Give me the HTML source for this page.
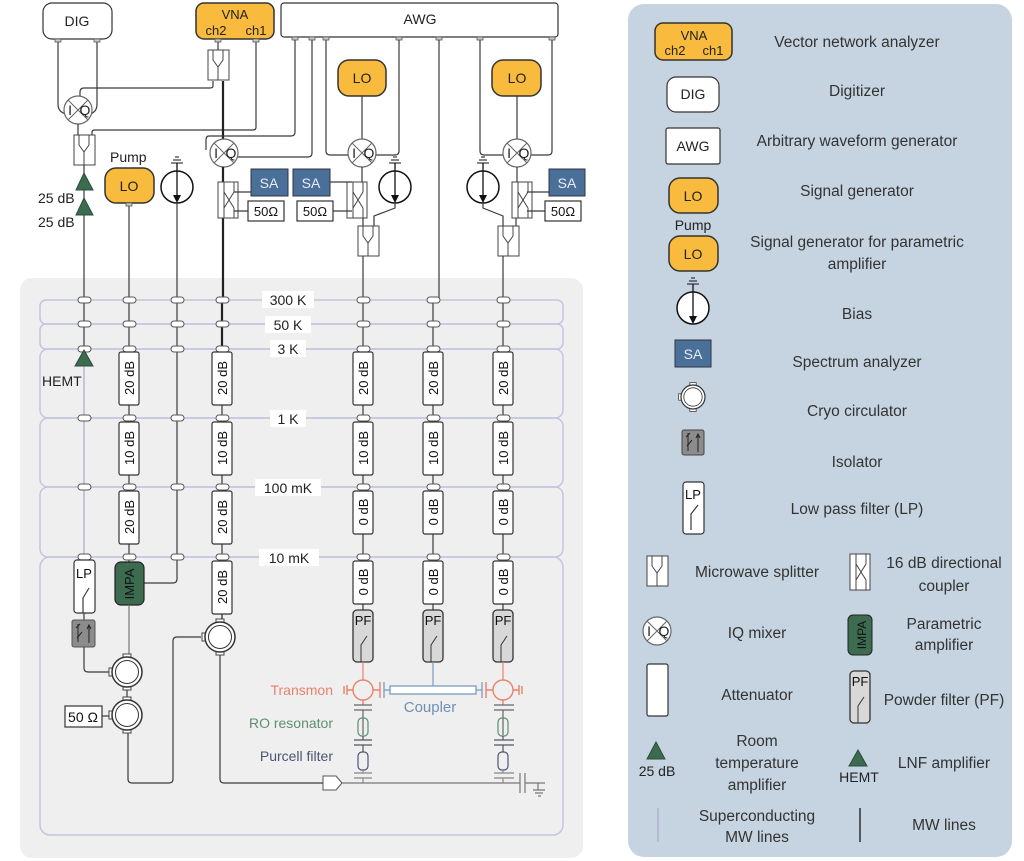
<!DOCTYPE html>
<html><head><meta charset="utf-8"><style>
html,body{margin:0;padding:0;background:#fff;}
svg{display:block;font-family:"Liberation Sans","DejaVu Sans",sans-serif;}
.ln{fill:none;stroke:#3a3a3a;stroke-width:1.2}
.th{fill:none;stroke:#222;stroke-width:2.2}
.sc{fill:none;stroke:#a9a9cc;stroke-width:1.2}
.gr{fill:none;stroke:#777;stroke-width:1.2}
.bx{fill:#fff;stroke:#333;stroke-width:1.2}
.t{font-size:14px;fill:#222}
.lg{font-size:15.5px;fill:#333;text-anchor:middle}
.lo{fill:#f9bb3d;stroke:#333;stroke-width:1.5}
.sa{fill:#4a6f99;stroke:#334;stroke-width:1}
.pill{fill:#fff;stroke:#555;stroke-width:1}
.at{font-size:13px;fill:#111}
</style></head><body>
<svg width="1024" height="861" viewBox="0 0 1024 861" xmlns="http://www.w3.org/2000/svg">
<defs>
<symbol id="mix" overflow="visible"><circle r="14" fill="#fff" stroke="#666" stroke-width="1.2"/><path d="M-10,-10L10,10M10,-10L-10,10" stroke="#666" stroke-width="1"/><text x="-8" y="5" font-size="14" fill="#222" text-anchor="middle">I</text><text x="7" y="5" font-size="14" fill="#222" text-anchor="middle">Q</text></symbol>
<symbol id="spl" overflow="visible"><rect x="-10" y="0" width="21" height="30" fill="#fff" stroke="#444"/><path d="M-5,0L-5,10L0,17L5,10L5,0M0,17L0,30" fill="none" stroke="#444"/></symbol>
<symbol id="dc" overflow="visible"><rect x="-10" y="0" width="20" height="36" fill="#fff" stroke="#444"/><path d="M-4,0V36M-4,10L6,26M6,10L-4,26M6,10V0M6,26V36" fill="none" stroke="#444"/></symbol>
<symbol id="cir" overflow="visible"><rect x="-4" y="-18" width="8" height="5" fill="#fff" stroke="#444"/><rect x="-4" y="13" width="8" height="5" fill="#fff" stroke="#444"/><rect x="-18" y="-4" width="5" height="8" fill="#fff" stroke="#444"/><circle r="15" fill="#fff" stroke="#333" stroke-width="1.5"/><circle r="11.5" fill="#fff" stroke="#333" stroke-width="1"/></symbol>
<symbol id="bias" overflow="visible"><circle r="16" fill="#fff" stroke="#111" stroke-width="1.5"/><path d="M0,-24V14" stroke="#111" stroke-width="1.3"/><path d="M-4,8L0,16L4,8Z" fill="#111"/><path d="M-6,-24H6M-4,-27H4M-2,-30H2" stroke="#111"/></symbol>
<symbol id="pf" overflow="visible"><rect x="-10" y="0" width="20" height="52" rx="4" fill="#d8d8d8" stroke="#333" stroke-width="1.3"/><text x="0" y="15" font-size="13" text-anchor="middle" fill="#111">PF</text><path d="M-2,52V35L4,26" fill="none" stroke="#333"/></symbol>
</defs>

<rect x="628" y="4" width="384" height="853" rx="16" fill="#c6d4e1"/>
<rect x="20" y="278" width="563" height="580" rx="12" fill="#efefef"/>
<g fill="none" stroke="#c4c4e0" stroke-width="1.5">
<rect x="40" y="300" width="523" height="24" rx="6"/>
<rect x="40" y="324" width="523" height="25" rx="6"/>
<rect x="40" y="349" width="523" height="69" rx="8"/>
<rect x="40" y="418" width="523" height="69" rx="8"/>
<rect x="40" y="487" width="523" height="70" rx="8"/>
<rect x="40" y="557" width="523" height="278" rx="10"/>
</g>

<rect x="43" y="3" width="69" height="36" rx="9" class="bx" stroke-width="1.5"/>
<text x="77" y="26" class="t" text-anchor="middle">DIG</text>
<rect x="196" y="3" width="78" height="36" rx="8" class="lo"/>
<text x="235" y="19" font-size="13" text-anchor="middle" fill="#222">VNA</text>
<text x="216" y="35" font-size="13" text-anchor="middle" fill="#222">ch2</text>
<text x="256" y="35" font-size="13" text-anchor="middle" fill="#222">ch1</text>
<rect x="281" y="3" width="277" height="34" rx="3" class="bx"/>
<text x="420" y="24" class="t" text-anchor="middle">AWG</text>
<g fill="#ccc" stroke="#555" stroke-width="0.8">
<rect x="55" y="39" width="6" height="3"/><rect x="94" y="39" width="6" height="3"/>
<rect x="215" y="39" width="6" height="3"/><rect x="253" y="39" width="6" height="3"/>
<rect x="292" y="37" width="6" height="3"/><rect x="309" y="37" width="6" height="3"/><rect x="323" y="37" width="6" height="3"/><rect x="396" y="37" width="6" height="3"/><rect x="436" y="37" width="6" height="3"/><rect x="477" y="37" width="6" height="3"/><rect x="549" y="37" width="6" height="3"/>
</g>

<path class="ln" d="M58,42V104Q58,112 66,114M97,42V104Q97,112 90,114"/>
<path class="ln" d="M218,42V50"/>
<use href="#spl" x="218" y="50"/>
<path class="ln" d="M213,81V86Q213,88 210,88H84Q80,88 80,92V97"/>
<use href="#mix" x="78" y="110"/>
<path class="ln" d="M78,124V135M92,135V132Q92,130 95,130H253Q256,130 256,127V42"/>
<use href="#spl" x="84" y="135"/>
<path class="ln" d="M84,165V300"/>
<path d="M76,190L84,173L93,190Z" fill="#3c6b50" stroke="#2b4d3a"/>
<path d="M76,215L84,198L93,215Z" fill="#3c6b50" stroke="#2b4d3a"/>
<text x="38" y="203" class="t">25 dB</text>
<text x="38" y="227" class="t">25 dB</text>

<text x="110" y="162" class="t">Pump</text>
<rect x="105" y="168" width="49" height="35" rx="11" class="lo"/>
<text x="129" y="191" class="t" text-anchor="middle">LO</text>
<rect x="126" y="203" width="6" height="3" fill="#ccc" stroke="#555" stroke-width="0.8"/>
<path class="ln" d="M129,206V300"/>
<use href="#bias" x="177" y="187"/>
<path class="ln" d="M177,203V300"/>

<path class="th" d="M223,81V139"/>
<path class="ln" d="M295,40V132Q295,136 291,136H209Q206,136 206,140V150M312,40V153Q312,157 308,157H238"/>
<use href="#mix" x="224" y="153"/>
<path class="th" d="M223,167V300"/>
<use href="#dc" x="228" y="182"/>
<path class="ln" d="M234,192H251M234,211H248"/>
<rect x="251" y="169" width="37" height="27" class="sa"/>
<text x="269" y="188" font-size="14" text-anchor="middle" style="fill:#e8eef5">SA</text>
<rect x="248" y="201" width="36" height="20" class="bx"/>
<text x="266" y="216" font-size="13" text-anchor="middle" fill="#111">50Ω</text>

<rect x="338" y="60" width="48" height="36" rx="11" class="lo"/>
<text x="362" y="83" class="t" text-anchor="middle">LO</text>
<path class="ln" d="M362,96V139M326,40V151Q326,155 330,155H348M399,40V151Q399,155 395,155H376"/>
<use href="#mix" x="362" y="153"/>
<path class="ln" d="M362,167V182"/>
<rect x="293" y="169" width="37" height="27" class="sa"/>
<text x="311" y="188" font-size="14" text-anchor="middle" style="fill:#e8eef5">SA</text>
<rect x="297" y="201" width="36" height="20" class="bx"/>
<text x="315" y="216" font-size="13" text-anchor="middle" fill="#111">50Ω</text>
<use href="#dc" x="357" y="182"/>
<path class="ln" d="M330,182H352M333,211H352M363,218V226"/>
<use href="#bias" x="395" y="187"/>
<path class="ln" d="M395,203V208L374,216V226"/>
<use href="#spl" x="368" y="226"/>
<path class="ln" d="M363,256V352"/>

<path class="ln" d="M439,40V300"/>
<path class="ln" d="M433,300V352"/>

<rect x="492" y="60" width="49" height="36" rx="11" class="lo"/>
<text x="517" y="83" class="t" text-anchor="middle">LO</text>
<path class="ln" d="M517,96V139M480,40V151Q480,155 484,155H503M552,40V151Q552,155 548,155H531"/>
<use href="#mix" x="517" y="153"/>
<path class="ln" d="M517,167V182"/>
<use href="#dc" x="522" y="182"/>
<path class="ln" d="M527,192H549M527,211H545M516,218V226"/>
<rect x="549" y="169" width="36" height="27" class="sa"/>
<text x="567" y="188" font-size="14" text-anchor="middle" style="fill:#e8eef5">SA</text>
<rect x="545" y="201" width="36" height="20" class="bx"/>
<text x="563" y="216" font-size="13" text-anchor="middle" fill="#111">50Ω</text>
<use href="#bias" x="483" y="187"/>
<path class="ln" d="M483,203V208L503,216V226"/>
<use href="#spl" x="508" y="226"/>
<path class="ln" d="M503,256V352"/>

<path class="ln" d="M84,300V352"/>
<path class="sc" d="M84,366V560"/>
<path class="ln" d="M129,300V562"/>
<path class="ln" d="M177,300V579Q177,583 173,583H144"/>
<path class="th" d="M222,300V352"/>
<path class="ln" d="M222,352V620"/>
<path class="ln" d="M363,352V610"/>
<path class="ln" d="M433,352V610"/>
<path class="ln" d="M503,352V610"/>

<g font-size="14" fill="#222" text-anchor="middle">
<rect x="262" y="291" width="52" height="17" fill="#fff"/><text x="288" y="305">300 K</text>
<rect x="265" y="316" width="46" height="17" fill="#fff"/><text x="288" y="330">50 K</text>
<rect x="270" y="340" width="36" height="17" fill="#fff"/><text x="288" y="354">3 K</text>
<rect x="270" y="410" width="36" height="17" fill="#fff"/><text x="288" y="424">1 K</text>
<rect x="255" y="479" width="66" height="17" fill="#fff"/><text x="288" y="493">100 mK</text>
<rect x="259" y="549" width="60" height="17" fill="#fff"/><text x="289" y="563">10 mK</text>
</g>

<g class="pill">
<rect x="78" y="297" width="13" height="6" rx="3"/><rect x="123" y="297" width="13" height="6" rx="3"/><rect x="171" y="297" width="13" height="6" rx="3"/><rect x="216" y="297" width="13" height="6" rx="3"/><rect x="357" y="297" width="13" height="6" rx="3"/><rect x="427" y="297" width="13" height="6" rx="3"/><rect x="497" y="297" width="13" height="6" rx="3"/>
<rect x="78" y="321" width="13" height="6" rx="3"/><rect x="123" y="321" width="13" height="6" rx="3"/><rect x="171" y="321" width="13" height="6" rx="3"/><rect x="216" y="321" width="13" height="6" rx="3"/><rect x="357" y="321" width="13" height="6" rx="3"/><rect x="427" y="321" width="13" height="6" rx="3"/><rect x="497" y="321" width="13" height="6" rx="3"/>
<rect x="78" y="346" width="13" height="6" rx="3"/><rect x="123" y="346" width="13" height="6" rx="3"/><rect x="171" y="346" width="13" height="6" rx="3"/><rect x="216" y="346" width="13" height="6" rx="3"/><rect x="357" y="346" width="13" height="6" rx="3"/><rect x="427" y="346" width="13" height="6" rx="3"/><rect x="497" y="346" width="13" height="6" rx="3"/>
<rect x="78" y="415" width="13" height="6" rx="3"/><rect x="123" y="415" width="13" height="6" rx="3"/><rect x="171" y="415" width="13" height="6" rx="3"/><rect x="216" y="415" width="13" height="6" rx="3"/><rect x="357" y="415" width="13" height="6" rx="3"/><rect x="427" y="415" width="13" height="6" rx="3"/><rect x="497" y="415" width="13" height="6" rx="3"/>
<rect x="78" y="484" width="13" height="6" rx="3"/><rect x="123" y="484" width="13" height="6" rx="3"/><rect x="171" y="484" width="13" height="6" rx="3"/><rect x="216" y="484" width="13" height="6" rx="3"/><rect x="357" y="484" width="13" height="6" rx="3"/><rect x="427" y="484" width="13" height="6" rx="3"/><rect x="497" y="484" width="13" height="6" rx="3"/>
<rect x="78" y="554" width="13" height="6" rx="3"/><rect x="123" y="554" width="13" height="6" rx="3"/><rect x="171" y="554" width="13" height="6" rx="3"/><rect x="216" y="554" width="13" height="6" rx="3"/><rect x="357" y="554" width="13" height="6" rx="3"/><rect x="427" y="554" width="13" height="6" rx="3"/><rect x="497" y="554" width="13" height="6" rx="3"/>
</g>

<path d="M75,366L84,350L93,366Z" fill="#3c6b50" stroke="#2b4d3a"/>
<text x="42" y="386" class="t">HEMT</text>

<g class="bx">
<rect x="119" y="352" width="20" height="53" rx="2"/><rect x="212" y="352" width="20" height="53" rx="2"/><rect x="353" y="352" width="20" height="53" rx="2"/><rect x="423" y="352" width="20" height="53" rx="2"/><rect x="493" y="352" width="20" height="53" rx="2"/>
<rect x="119" y="422" width="20" height="53" rx="2"/><rect x="212" y="422" width="20" height="53" rx="2"/><rect x="353" y="422" width="20" height="53" rx="2"/><rect x="423" y="422" width="20" height="53" rx="2"/><rect x="493" y="422" width="20" height="53" rx="2"/>
<rect x="119" y="491" width="20" height="53" rx="2"/><rect x="212" y="491" width="20" height="53" rx="2"/><rect x="353" y="491" width="20" height="43" rx="2"/><rect x="423" y="491" width="20" height="43" rx="2"/><rect x="493" y="491" width="20" height="43" rx="2"/>
<rect x="212" y="561" width="20" height="53" rx="2"/><rect x="353" y="561" width="20" height="43" rx="2"/><rect x="423" y="561" width="20" height="43" rx="2"/><rect x="493" y="561" width="20" height="43" rx="2"/>
</g>
<g class="at" text-anchor="middle">
<text transform="translate(134,378) rotate(-90)">20 dB</text><text transform="translate(227,378) rotate(-90)">20 dB</text><text transform="translate(368,378) rotate(-90)">20 dB</text><text transform="translate(438,378) rotate(-90)">20 dB</text><text transform="translate(508,378) rotate(-90)">20 dB</text>
<text transform="translate(134,448) rotate(-90)">10 dB</text><text transform="translate(227,448) rotate(-90)">10 dB</text><text transform="translate(368,448) rotate(-90)">10 dB</text><text transform="translate(438,448) rotate(-90)">10 dB</text><text transform="translate(508,448) rotate(-90)">10 dB</text>
<text transform="translate(134,517) rotate(-90)">20 dB</text><text transform="translate(227,517) rotate(-90)">20 dB</text><text transform="translate(368,512) rotate(-90)">0 dB</text><text transform="translate(438,512) rotate(-90)">0 dB</text><text transform="translate(508,512) rotate(-90)">0 dB</text>
<text transform="translate(227,587) rotate(-90)">20 dB</text><text transform="translate(368,582) rotate(-90)">0 dB</text><text transform="translate(438,582) rotate(-90)">0 dB</text><text transform="translate(508,582) rotate(-90)">0 dB</text>
</g>

<rect x="74" y="560" width="21" height="53" rx="3" class="bx"/>
<text x="84" y="578" font-size="13" text-anchor="middle" fill="#111">LP</text>
<path class="ln" d="M83,613V598L89,588" stroke-width="1"/>
<path class="ln" d="M84,613V620"/>
<rect x="72" y="620" width="23" height="27" rx="2" fill="#8c8c8c" stroke="#555"/>
<path d="M78,624V642M89,643V625M76,628L80,624M87,629L89,625L91,629M82,632L77,638" stroke="#222" fill="none" stroke-width="1"/>
<path class="ln" d="M84,647V668Q84,672 88,672H112"/>
<rect x="115" y="562" width="29" height="43" rx="6" fill="#3c6b50" stroke="#222" stroke-width="1.2"/>
<text transform="translate(134,584) rotate(-90)" font-size="13" text-anchor="middle" fill="#111">IMPA</text>
<path class="gr" d="M129,605V657"/>
<use href="#cir" x="127" y="672"/>
<path class="ln" d="M127,690V697"/>
<use href="#cir" x="127" y="715"/>
<rect x="65" y="706" width="37" height="21" class="bx"/>
<text x="83" y="722" font-size="14" text-anchor="middle" fill="#111">50 Ω</text>
<path class="ln" d="M102,716H109"/>
<path class="ln" d="M128,733V779Q128,783 132,783H169Q173,783 173,779V641Q173,637 177,637H201"/>
<path class="ln" d="M222,614V619"/>
<use href="#cir" x="220" y="637"/>
<path class="ln" d="M220,655V779Q220,783 224,783H323"/>
<path d="M323,776H336L342,783L336,790H323Z" fill="#fff" stroke="#555"/>
<path class="gr" d="M342,783H520M520,773V793M525,773V793M525,783H545M538,783V790M533,790H545M535,793H543M538,796H541" stroke="#999"/>

<use href="#pf" x="363" y="610"/>
<use href="#pf" x="433" y="610"/>
<use href="#pf" x="503" y="610"/>
<path d="M363,662V680M503,662V680" stroke="#e8826b" stroke-width="1.2"/>
<path d="M433,662V686" stroke="#7a9cc0" stroke-width="1.2"/>
<g fill="none" stroke="#e8826b" stroke-width="1.4">
<circle cx="363" cy="690" r="10"/><circle cx="503" cy="690" r="10"/>
<path d="M353,690H347M347,685V695M344,686V694M373,690H380M380,682V698M493,690H486M486,682V698M513,690H519M519,685V695M522,686V694M363,700V705M503,700V705"/>
</g>
<g stroke="#7a9cc0" fill="none" stroke-width="1.3">
<path d="M384,682V698M384,690H390M476,690H482M482,682V698"/>
<rect x="390" y="686" width="86" height="8" fill="#fff"/>
</g>
<g stroke="#666" fill="none" stroke-width="1.2">
<path d="M354,705H372M354,710H372M494,705H514M494,710H514"/>
<path d="M363,710V735M503,710V735"/>
</g>
<g stroke="#5e8f6e" fill="none" stroke-width="1.2">
<rect x="358" y="718" width="10" height="18" rx="4"/><rect x="498" y="718" width="10" height="18" rx="4"/>
</g>
<g stroke="#556" fill="none" stroke-width="1.2">
<path d="M354,740H372M354,745H372M494,740H514M494,745H514M363,736V740M503,736V740M363,745V752M503,745V752"/>
<rect x="358" y="752" width="10" height="18" rx="4" stroke="#4a5578"/><rect x="498" y="752" width="10" height="18" rx="4" stroke="#4a5578"/>
<path d="M354,773H372M354,778H372M494,773H514M494,778H514M363,770V773M503,770V773M363,778V783M503,778V783" stroke="#888"/>
</g>
<text x="333" y="695" font-size="14" fill="#e8826b" text-anchor="end">Transmon</text>
<text x="430" y="712" font-size="15" fill="#6f8fb5" text-anchor="middle">Coupler</text>
<text x="333" y="728" font-size="14" fill="#5e8f6e" text-anchor="end">RO resonator</text>
<text x="333" y="761" font-size="14" fill="#4a5570" text-anchor="end">Purcell filter</text>

<rect x="655" y="23" width="77" height="37" rx="8" class="lo"/>
<text x="694" y="40" font-size="13" text-anchor="middle" fill="#222">VNA</text>
<text x="675" y="55" font-size="13" text-anchor="middle" fill="#222">ch2</text>
<text x="713" y="55" font-size="13" text-anchor="middle" fill="#222">ch1</text>
<text x="857" y="47" class="lg">Vector network analyzer</text>
<rect x="667" y="77" width="52" height="35" rx="9" class="bx" stroke-width="1.5"/>
<text x="693" y="99" class="t" text-anchor="middle">DIG</text>
<text x="857" y="96" class="lg">Digitizer</text>
<rect x="666" y="128" width="54" height="36" rx="2" class="bx"/>
<text x="693" y="151" class="t" text-anchor="middle">AWG</text>
<text x="857" y="146" class="lg">Arbitrary waveform generator</text>
<rect x="669" y="178" width="49" height="35" rx="11" class="lo"/>
<text x="693" y="201" class="t" text-anchor="middle">LO</text>
<text x="857" y="196" class="lg">Signal generator</text>
<text x="693" y="230" class="t" text-anchor="middle">Pump</text>
<rect x="669" y="236" width="49" height="35" rx="11" class="lo"/>
<text x="693" y="259" class="t" text-anchor="middle">LO</text>
<text x="857" y="247" class="lg">Signal generator for parametric</text>
<text x="857" y="269" class="lg">amplifier</text>
<use href="#bias" x="693" y="308"/>
<text x="857" y="319" class="lg">Bias</text>
<rect x="675" y="340" width="36" height="27" class="sa"/>
<text x="693" y="359" font-size="14" text-anchor="middle" style="fill:#e8eef5">SA</text>
<text x="857" y="367" class="lg">Spectrum analyzer</text>
<g transform="translate(693,397) scale(0.8)"><use href="#cir"/></g>
<text x="857" y="416" class="lg">Cryo circulator</text>
<rect x="682" y="430" width="22" height="25" rx="2" fill="#8c8c8c" stroke="#444"/>
<path d="M688,433V451M698,452V434M686,437L690,433M696,438L698,434L700,438M692,440L687,446" stroke="#222" fill="none"/>
<text x="857" y="467" class="lg">Isolator</text>
<rect x="683" y="482" width="21" height="52" rx="3" class="bx"/>
<text x="693" y="499" font-size="13" text-anchor="middle" fill="#111">LP</text>
<path class="ln" d="M691,530V514L698,505" stroke-width="1"/>
<text x="857" y="514" class="lg">Low pass filter (LP)</text>
<use href="#spl" x="657" y="556"/>
<text x="757" y="577" class="lg">Microwave splitter</text>
<use href="#dc" x="860" y="554"/>
<text x="944" y="568" class="lg">16 dB directional</text>
<text x="944" y="591" class="lg">coupler</text>
<use href="#mix" x="657" y="631"/>
<text x="757" y="638" class="lg">IQ mixer</text>
<rect x="848" y="615" width="24" height="40" rx="5" fill="#3c6b50" stroke="#222"/>
<text transform="translate(866,635) rotate(-90)" font-size="12" text-anchor="middle" fill="#111">IMPA</text>
<text x="944" y="629" class="lg">Parametric</text>
<text x="944" y="650" class="lg">amplifier</text>
<rect x="647" y="664" width="21" height="52" rx="2" class="bx"/>
<text x="757" y="700" class="lg">Attenuator</text>
<use href="#pf" x="860" y="671"/>
<text x="944" y="705" class="lg">Powder filter (PF)</text>
<path d="M647,759L656,742L665,759Z" fill="#3c6b50" stroke="#2b4d3a"/>
<text x="657" y="776" class="t" text-anchor="middle">25 dB</text>
<text x="757" y="746" class="lg">Room</text>
<text x="757" y="768" class="lg">temperature</text>
<text x="757" y="790" class="lg">amplifier</text>
<path d="M849,766L858,750L867,766Z" fill="#3c6b50" stroke="#2b4d3a"/>
<text x="859" y="782" class="t" text-anchor="middle">HEMT</text>
<text x="944" y="768" class="lg">LNF amplifier</text>
<path d="M658,808V842" stroke="#a9a9cc" stroke-width="1.2"/>
<text x="757" y="821" class="lg">Superconducting</text>
<text x="757" y="842" class="lg">MW lines</text>
<path d="M860,808V842" stroke="#333" stroke-width="1.5"/>
<text x="944" y="830" class="lg">MW lines</text>
</svg>
</body></html>
